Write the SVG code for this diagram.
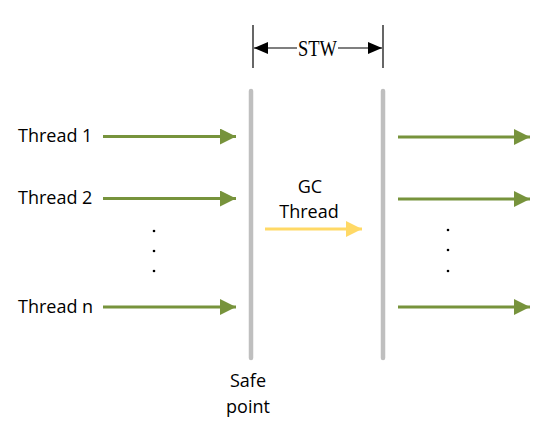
<svg xmlns="http://www.w3.org/2000/svg" width="552" height="431" viewBox="0 0 552 431">
<style>
.lbl{font-family:"Open Sans","Liberation Sans",sans-serif;font-size:18px;fill:#000}
.stw{font-family:"Liberation Serif","DejaVu Serif",serif;font-size:23px;fill:#000}
.thr{stroke:#77933C;stroke-width:3;fill:none;marker-end:url(#g)}
.gc{stroke:#FFD966;stroke-width:3;fill:none;marker-end:url(#y)}
.bar{stroke:#BFBFBF;stroke-width:4.5;stroke-linecap:round}
.dot{fill:#000}
</style>
<defs>
<marker id="g" markerWidth="16" markerHeight="16" viewBox="0 0 16 16" refX="16" refY="8" orient="auto" markerUnits="userSpaceOnUse"><path d="M0,0 L16,8 L0,16 Z" fill="#77933C"/></marker>
<marker id="y" markerWidth="16" markerHeight="16" viewBox="0 0 16 16" refX="16" refY="8" orient="auto" markerUnits="userSpaceOnUse"><path d="M0,0 L16,8 L0,16 Z" fill="#FFD966"/></marker>
<marker id="k" markerWidth="14" markerHeight="12" viewBox="0 0 14 12" refX="14" refY="6" orient="auto" markerUnits="userSpaceOnUse"><path d="M0,0 L14,6 L0,12 Z" fill="#000"/></marker>
</defs>
<rect width="552" height="431" fill="#fff"/>
<g id="safepoint"><line class="bar" x1="251" y1="91" x2="251" y2="358"/><text class="lbl" x="248" y="387" text-anchor="middle">Safe</text><text class="lbl" x="248" y="413" text-anchor="middle">point</text></g>
<g id="resume"><line class="bar" x1="383" y1="91" x2="383" y2="358"/></g>
<g id="stw">
<line x1="253" y1="25" x2="253" y2="68" stroke="#000" stroke-width="1.2"/>
<line x1="383" y1="25" x2="383" y2="68" stroke="#000" stroke-width="1.2"/>
<line x1="297" y1="48" x2="254" y2="48" stroke="#000" stroke-width="1.2" marker-end="url(#k)"/>
<line x1="338" y1="48" x2="382" y2="48" stroke="#000" stroke-width="1.2" marker-end="url(#k)"/>
<text class="stw" x="298" y="56" textLength="39" lengthAdjust="spacingAndGlyphs">STW</text>
</g>
<g id="thread1"><text class="lbl" x="18" y="142">Thread 1</text></g>
<g id="thread2"><text class="lbl" x="18" y="204">Thread 2</text></g>
<g id="threadn"><text class="lbl" x="18" y="313">Thread n</text></g>
<g id="gcthread"><text class="lbl" x="310" y="193" text-anchor="middle">GC</text><text class="lbl" x="309" y="218" text-anchor="middle">Thread</text></g>
<g id="dots-left"><circle class="dot" cx="154" cy="231" r="1.3"/><circle class="dot" cx="154" cy="251" r="1.3"/><circle class="dot" cx="154" cy="271" r="1.3"/></g>
<g id="dots-right"><circle class="dot" cx="448" cy="230" r="1.3"/><circle class="dot" cx="448" cy="250" r="1.3"/><circle class="dot" cx="448" cy="271" r="1.3"/></g>
<g id="connectors">
<line class="thr" x1="103" y1="136.5" x2="236" y2="136.5"/>
<line class="thr" x1="103" y1="198.5" x2="236" y2="198.5"/>
<line class="thr" x1="103" y1="307" x2="236" y2="307"/>
<line class="thr" x1="398" y1="137" x2="530" y2="137"/>
<line class="thr" x1="398" y1="199" x2="530" y2="199"/>
<line class="thr" x1="398" y1="307" x2="530" y2="307"/>
<line class="gc" x1="265" y1="229" x2="362" y2="229"/>
</g>
</svg>
